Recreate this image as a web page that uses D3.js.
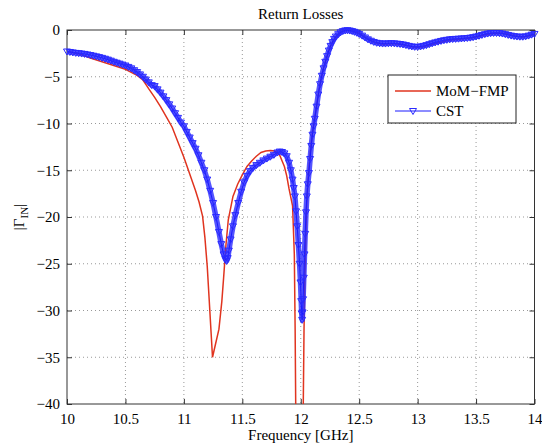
<!DOCTYPE html>
<html>
<head>
<meta charset="utf-8">
<script src="https://cdn.jsdelivr.net/npm/d3@7"></script>
<style>
  body { margin: 0; background: #fff; }
  text { font-family: 'Liberation Serif', 'DejaVu Serif', serif; }
</style>
</head>
<body>
<svg width="542" height="445"></svg>
<script>
// MoM-FMP (red line)
const freqMoM = [10.0, 10.1, 10.2, 10.3, 10.4, 10.5, 10.6, 10.65, 10.7, 10.75, 10.8, 10.85, 10.9, 10.95,
  11.0, 11.05, 11.1, 11.13, 11.16, 11.18, 11.2, 11.215, 11.245, 11.3, 11.325, 11.34, 11.36, 11.38,
  11.42, 11.46, 11.5, 11.54, 11.58, 11.62, 11.66, 11.7, 11.74, 11.78, 11.82, 11.86, 11.88, 11.9,
  11.93, 11.945, 11.952, 11.958, 11.99, 12.02, 12.028, 12.036, 12.05, 12.065, 12.08, 12.1, 12.12,
  12.16, 12.19, 12.25, 12.31, 12.35, 12.4, 12.45, 12.5, 12.55, 12.6, 12.65, 12.7, 12.75, 12.8,
  12.85, 12.9, 12.95, 13.0, 13.05, 13.1, 13.15, 13.2, 13.25, 13.3, 13.35, 13.4, 13.45, 13.5,
  13.55, 13.6, 13.65, 13.7, 13.75, 13.8, 13.85, 13.9, 13.95, 14.0]
const gammaMoM = [-2.3, -2.55, -3.0, -3.4, -3.8, -4.2, -4.85, -5.35, -6.3, -7.2, -8.2, -9.3, -10.4, -12.0,
  -13.6, -15.4, -17.2, -18.4, -19.9, -22.2, -25.3, -28.5, -35.0, -32.0, -29.0, -26.5, -23.0, -20.3,
  -17.8, -16.5, -15.5, -14.6, -14.0, -13.5, -13.1, -12.95, -12.9, -12.95, -13.4, -14.6, -15.6, -17.0,
  -18.8, -24.0, -32.0, -42.0, -55.0, -42.0, -32.0, -26.0, -19.0, -15.5, -13.2, -11.0, -9.4,
  -6.1, -4.3, -1.8, -0.55, -0.15, -0.02, -0.15, -0.35, -0.8, -1.15, -1.4, -1.5, -1.47, -1.47,
  -1.52, -1.62, -1.78, -1.85, -1.78, -1.6, -1.45, -1.3, -1.15, -1.05, -0.98, -0.92, -0.85, -0.75,
  -0.6, -0.45, -0.36, -0.34, -0.38, -0.52, -0.68, -0.74, -0.64, -0.45]

// CST (blue line with triangle markers)
const freqCST = [10.0, 10.025, 10.05, 10.075, 10.1, 10.125, 10.15, 10.175, 10.2, 10.225, 10.25, 10.275,
  10.3, 10.325, 10.35, 10.375, 10.4, 10.425, 10.45, 10.475, 10.5, 10.525, 10.55, 10.575, 10.6, 10.625,
  10.65, 10.675, 10.7, 10.725, 10.75, 10.775, 10.8, 10.825, 10.85, 10.875, 10.9, 10.925, 10.95, 10.975,
  11.0, 11.025, 11.05, 11.075, 11.1, 11.125, 11.15, 11.175, 11.2, 11.225, 11.25, 11.275, 11.3, 11.32,
  11.34, 11.355, 11.365, 11.375, 11.385, 11.4, 11.42, 11.44, 11.465, 11.49, 11.515, 11.54, 11.565,
  11.59, 11.62, 11.65, 11.68, 11.71, 11.74, 11.77, 11.8, 11.82, 11.84, 11.86, 11.88, 11.9, 11.915,
  11.93, 11.94, 11.95, 11.96, 11.97, 11.98, 11.99, 11.998, 12.004, 12.008, 12.012, 12.016, 12.02,
  12.026, 12.032, 12.038, 12.045, 12.052, 12.06, 12.07, 12.08, 12.09, 12.1, 12.11, 12.12, 12.135,
  12.15, 12.165, 12.18, 12.195, 12.21, 12.225, 12.24, 12.255, 12.27, 12.285, 12.3, 12.32, 12.34,
  12.36, 12.38, 12.4, 12.42, 12.44, 12.46, 12.48, 12.5, 12.525, 12.55, 12.575, 12.6, 12.625, 12.65,
  12.675, 12.7, 12.725, 12.75, 12.775, 12.8, 12.825, 12.85, 12.875, 12.9, 12.925, 12.95, 12.975,
  13.0, 13.025, 13.05, 13.075, 13.1, 13.125, 13.15, 13.175, 13.2, 13.225, 13.25, 13.275, 13.3,
  13.325, 13.35, 13.375, 13.4, 13.425, 13.45, 13.475, 13.5, 13.525, 13.55, 13.575, 13.6, 13.625,
  13.65, 13.675, 13.7, 13.725, 13.75, 13.775, 13.8, 13.825, 13.85, 13.875, 13.9, 13.925, 13.95,
  13.975, 14.0]
const gammaCST = [-2.3, -2.35, -2.4, -2.45, -2.48, -2.52, -2.56, -2.62, -2.68, -2.75, -2.82, -2.9,
  -2.98, -3.07, -3.17, -3.28, -3.4, -3.5, -3.6, -3.7, -3.8, -3.95, -4.1, -4.3, -4.5, -4.75,
  -5.0, -5.3, -5.6, -5.9, -6.0, -6.35, -6.7, -7.1, -7.5, -7.95, -8.4, -8.9, -9.4, -9.9,
  -10.3, -10.9, -11.5, -12.1, -12.7, -13.4, -14.2, -15.0, -16.0, -17.2, -18.5, -20.0, -21.6, -22.9,
  -24.0, -24.5, -24.7, -24.4, -23.6, -22.4, -21.0, -19.8, -18.5, -17.3, -16.3, -15.6, -15.1,
  -14.75, -14.45, -14.2, -13.95, -13.75, -13.55, -13.35, -13.1, -13.0, -13.05, -13.2, -13.5, -14.2, -15.0,
  -16.0, -16.9, -17.8, -19.4, -21.0, -23.0, -25.0, -27.0, -29.0, -30.3, -31.0, -30.2, -28.8,
  -26.5, -24.0, -21.8, -19.5, -17.8, -16.5, -15.3, -13.8, -12.4, -11.2, -10.3, -9.5, -8.2,
  -6.9, -5.8, -4.9, -4.1, -3.4, -2.8, -2.2, -1.7, -1.3, -0.95, -0.7, -0.45, -0.25,
  -0.12, -0.05, -0.03, -0.06, -0.12, -0.2, -0.3, -0.42, -0.6, -0.8, -1.0, -1.15, -1.28, -1.37,
  -1.42, -1.45, -1.45, -1.43, -1.42, -1.43, -1.46, -1.5, -1.55, -1.62, -1.7, -1.76, -1.8,
  -1.8, -1.76, -1.7, -1.62, -1.52, -1.42, -1.33, -1.25, -1.17, -1.1, -1.05, -1.0, -0.97,
  -0.95, -0.93, -0.91, -0.89, -0.86, -0.82, -0.77, -0.7, -0.62, -0.53, -0.45, -0.38, -0.34,
  -0.32, -0.32, -0.34, -0.38, -0.45, -0.53, -0.6, -0.66, -0.7, -0.72, -0.72, -0.68, -0.6,
  -0.5, -0.42]

const xTicks = [10, 10.5, 11, 11.5, 12, 12.5, 13, 13.5, 14]
const yTicks = [0, -5, -10, -15, -20, -25, -30, -35, -40]
const seriesNames = ['MoM\u2212FMP', 'CST']

const svg = d3.select('svg')
const margin = { top: 30, right: 7.5, bottom: 41, left: 67 }
const width = +svg.attr('width') - margin.left - margin.right
const height = +svg.attr('height') - margin.top - margin.bottom
const g = svg.append('g').attr('transform', 'translate(' + margin.left + ',' + margin.top + ')')

const x = d3.scaleLinear().domain([10, 14]).range([0, width])
const y = d3.scaleLinear().domain([-40, 0]).range([height, 0])
const fmt = d => String(d).replace('-', '\u2212')

// grid
g.append('g').selectAll('line').data(xTicks.slice(1, -1)).enter().append('line')
  .attr('x1', d => x(d)).attr('x2', d => x(d)).attr('y1', 0).attr('y2', height)
  .attr('stroke', '#999').attr('stroke-width', 1).attr('stroke-dasharray', '1,3')
g.append('g').selectAll('line').data(yTicks.slice(1, -1)).enter().append('line')
  .attr('y1', d => y(d)).attr('y2', d => y(d)).attr('x1', 0).attr('x2', width)
  .attr('stroke', '#999').attr('stroke-width', 1).attr('stroke-dasharray', '1,3')

// axes, ticks pointing inward like matlab
const xAxis = d3.axisBottom(x).tickValues(xTicks).tickSize(-5).tickPadding(9).tickFormat(fmt)
const yAxis = d3.axisLeft(y).tickValues(yTicks).tickSize(-5).tickPadding(7).tickFormat(fmt)
const gx = g.append('g').attr('transform', 'translate(0,' + height + ')').call(xAxis)
const gy = g.append('g').call(yAxis)
g.append('g').call(d3.axisTop(x).tickValues(xTicks).tickSize(-5).tickFormat(''))
g.append('g').attr('transform', 'translate(' + width + ',0)')
  .call(d3.axisRight(y).tickValues(yTicks).tickSize(-5).tickFormat(''))
g.selectAll('.domain').remove()
g.selectAll('.tick line').attr('stroke', '#333')
gx.selectAll('text').attr('font-size', 15).attr('fill', '#000')
  .style('font-family', "'Liberation Serif', serif")
gy.selectAll('text').attr('font-size', 15).attr('fill', '#000')
  .style('font-family', "'Liberation Serif', serif")

g.append('rect').attr('width', width).attr('height', height)
  .attr('fill', 'none').attr('stroke', '#333').attr('stroke-width', 1)

g.append('clipPath').attr('id', 'clip').append('rect')
  .attr('width', width).attr('height', height)

const line = d3.line().x(d => x(d[0])).y(d => y(d[1]))
const momPts = freqMoM.map((f, i) => [f, gammaMoM[i]])
const cstPts = freqCST.map((f, i) => [f, gammaCST[i]])

g.append('path').datum(momPts).attr('d', line).attr('clip-path', 'url(#clip)')
  .attr('fill', 'none').attr('stroke', '#e0341f').attr('stroke-width', 1.5)

// dense markers of the CST run merge into a thick band
g.append('path').datum(cstPts).attr('d', line)
  .attr('fill', 'none').attr('stroke', '#2b2bff').attr('stroke-width', 5.5)
  .attr('stroke-opacity', 0.8).attr('stroke-linejoin', 'round')
g.append('path').datum(cstPts).attr('d', line)
  .attr('fill', 'none').attr('stroke', '#1a1aff').attr('stroke-width', 1)

const tri = 'M-3.5,-2.5L3.5,-2.5L0,3.5Z'
g.append('g').selectAll('path').data(cstPts).enter().append('path')
  .attr('d', tri)
  .attr('transform', d => 'translate(' + x(d[0]) + ',' + y(d[1]) + ')')
  .attr('fill', 'none').attr('stroke', '#2a2aff').attr('stroke-width', 1)

// legend
const lg = svg.append('g').attr('transform', 'translate(388,75)')
lg.append('rect').attr('width', 128).attr('height', 48)
  .attr('fill', '#fff').attr('stroke', '#222').attr('stroke-width', 1)
lg.append('line').attr('x1', 7).attr('x2', 43).attr('y1', 16).attr('y2', 16)
  .attr('stroke', '#e0341f').attr('stroke-width', 1.5)
lg.append('line').attr('x1', 7).attr('x2', 43).attr('y1', 36).attr('y2', 36)
  .attr('stroke', '#1a1aff').attr('stroke-width', 1)
lg.append('path').attr('d', tri).attr('transform', 'translate(25,36)')
  .attr('fill', 'none').attr('stroke', '#2a2aff')
lg.selectAll('text.lab').data(seriesNames).enter().append('text')
  .attr('x', 48).attr('y', (d, i) => 21 + i * 20)
  .attr('font-size', 15).text(d => d)

// titles
svg.append('text').attr('x', margin.left + width / 2).attr('y', 19)
  .attr('text-anchor', 'middle').attr('font-size', 15).text('Return Losses')
svg.append('text').attr('x', margin.left + width / 2).attr('y', 440)
  .attr('text-anchor', 'middle').attr('font-size', 15).text('Frequency [GHz]')
const yl = svg.append('text').attr('transform', 'translate(24,217) rotate(-90)')
  .attr('text-anchor', 'middle').attr('font-size', 15)
yl.append('tspan').text('|\u0393')
yl.append('tspan').attr('font-size', 11).attr('dy', 4).text('IN')
yl.append('tspan').attr('dy', -4).text('|')
</script>
</body>
</html>
